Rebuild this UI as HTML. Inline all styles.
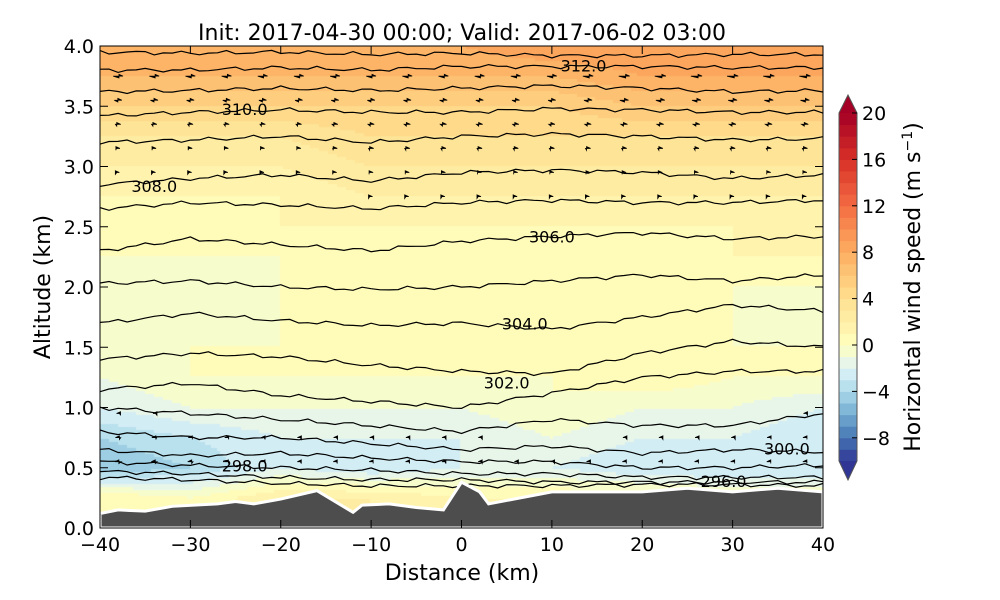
<!DOCTYPE html>
<html><head><meta charset="utf-8"><style>
body{margin:0;background:#fff;width:1000px;height:600px;overflow:hidden;position:relative;font-family:"Liberation Sans","DejaVu Sans",sans-serif}
canvas{position:absolute;left:100px;top:46px}
svg{position:absolute;left:0;top:0}
text{font-family:"DejaVu Sans","Liberation Sans",sans-serif}
</style></head><body>
<canvas id="field" width="723" height="482"></canvas>
<svg id="chart" width="1000" height="600"></svg>
<script>
// ---- data ----
const gridX=[-40,-30,-20,-10,0,10,20,30,40];
const gridZ=[0,0.25,0.5,0.75,1.0,1.25,1.5,1.75,2.0,2.25,2.5,2.75,3.0,3.25,3.5,3.75,4.0];
const windRows=[
[1,0,2,2,1,1,1,0,0],
[1,0,2,2,1,1,1,0,0],
[-5,-4,-2,-3,-2,-2,-3,-3,-3],
[-4,-3,-2,-2,-2,-1,-2,-2,-3],
[-2,-1,-1,-1,-1,0,-1,-1,-2],
[-1,0,0,0,0,0,1,0,0],
[0,0,0,0,0,1,1,0,0],
[-1,-1,0,0,0,0,0,0,-1],
[-1,-1,0,0,0,0,0,0,0],
[0,0,0,0,0,1,0,1,1],
[0,0,1,1,1,1,1,1,1],
[1,1,1,2,2,2,2,2,2],
[2,2,2,3,3,3,3,3,3],
[3,3,3,4,4,4,4,4,4],
[5,5,5,5,5,5,6,6,6],
[7,7,7,7,7,7,8,8,8],
[8,8,8,8,8,9,9,9,9]];
const terrainX=[-40,-38,-35,-32,-27,-25,-23,-20,-16,-12,-11,-8,-5,-2,0,2,3,10,20,25,30,35,40];
const terrainH=[0.12,0.15,0.14,0.18,0.2,0.22,0.2,0.24,0.31,0.13,0.19,0.2,0.17,0.15,0.38,0.3,0.2,0.3,0.3,0.33,0.3,0.33,0.3];
const thetaLevels=[296,297,298,299,300,301,302,303,304,305,306,307,308,309,310,311,312,313];
const thetaHeights=[
[0.42,0.4,0.37,0.35,0.35,0.35,0.36,0.36,0.35],
[0.47,0.45,0.42,0.4,0.4,0.38,0.38,0.38,0.38],
[0.55,0.52,0.5,0.48,0.45,0.45,0.42,0.42,0.42],
[0.65,0.6,0.62,0.58,0.55,0.55,0.5,0.5,0.52],
[0.8,0.75,0.75,0.7,0.65,0.68,0.62,0.65,0.63],
[1.0,0.95,0.9,0.85,0.8,0.9,0.85,0.85,0.95],
[1.15,1.2,1.1,1.05,1.0,1.12,1.25,1.3,1.3],
[1.4,1.45,1.42,1.35,1.3,1.28,1.45,1.55,1.5],
[1.7,1.78,1.72,1.68,1.7,1.65,1.75,1.85,1.8],
[2.03,2.05,2.0,1.98,2.0,2.05,2.1,2.05,2.1],
[2.3,2.4,2.35,2.3,2.38,2.42,2.45,2.4,2.42],
[2.65,2.7,2.68,2.65,2.7,2.72,2.7,2.7,2.72],
[2.85,2.9,2.93,2.88,2.95,2.97,2.95,2.9,2.93],
[3.2,3.22,3.25,3.2,3.25,3.27,3.25,3.22,3.23],
[3.42,3.45,3.47,3.45,3.45,3.48,3.47,3.45,3.45],
[3.62,3.63,3.65,3.63,3.65,3.67,3.65,3.62,3.63],
[3.8,3.8,3.82,3.8,3.83,3.83,3.83,3.82,3.82],
[3.95,3.94,3.95,3.93,3.94,3.92,3.92,3.93,3.93]];
const contourLabels=[[312,13.5,3.83],[310,-24,3.47],[308,-34,2.83],[306,10,2.41],[304,7,1.69],[302,5,1.2],[300,36,0.65],[298,-24,0.51],[296,29,0.38]];
const xTicks=[-40,-30,-20,-10,0,10,20,30,40];
const yTicks=[0,0.5,1,1.5,2,2.5,3,3.5,4];
const cbTicks=[-8,-4,0,4,8,12,16,20];

// ---- scales ----
const PL=100,PR=823,PT=46,PB=528;
const sx=v=>PL+(v+40)/80*(PR-PL);
const sy=v=>PB-v/4*(PB-PT);
const CBL=839,CBR=857,CBT=113,CBB=461;
const scb=v=>CBB-(v+10)/30*(CBB-CBT);
const stops=["#313695","#4575b4","#74add1","#abd9e9","#e0f3f8","#ffffbf","#fee090","#fdae61","#f46d43","#d73027","#a50026"].map(h=>[1,3,5].map(i=>parseInt(h.substr(i,2),16)));
function cmap(t){t=Math.max(0,Math.min(1,t));const f=t*10,i=Math.min(9,Math.floor(f)),r=f-i;const a=stops[i],b=stops[i+1];return `rgb(${a.map((c,k)=>Math.round(c+(b[k]-c)*r)).join(',')})`;}
const norm=v=>v<0?(v+10)/20:0.5+v/40;
const levelColor=v=>{const l=Math.floor(v);return cmap(norm(l+0.5));};
function interp1(xs,ys,x){if(x<=xs[0])return ys[0];for(let i=1;i<xs.length;i++)if(x<=xs[i]){const r=(x-xs[i-1])/(xs[i]-xs[i-1]);return ys[i-1]+(ys[i]-ys[i-1])*r;}return ys[ys.length-1];}
function wind(x,z){const col=windRows.map(r=>interp1(gridX,r,x));return interp1(gridZ,col,z);}

// ---- field ----
const ctx=document.getElementById('field').getContext('2d');
const S=3;
for(let px=0;px<723;px+=S)for(let py=0;py<482;py+=S){const x=-40+(px+S/2)/723*80,z=4-(py+S/2)/482*4;ctx.fillStyle=levelColor(wind(x,z));ctx.fillRect(px,py,S,S);}

// ---- svg ----
const svg=document.getElementById('chart');const NS="http://www.w3.org/2000/svg";
function el(tag,attrs,parent){const e=document.createElementNS(NS,tag);for(const k in attrs)e.setAttribute(k,attrs[k]);(parent||svg).appendChild(e);return e;}
const defs=el('defs',{});const cp=el('clipPath',{id:'clip'},defs);el('rect',{x:PL,y:PT,width:PR-PL,height:PB-PT},cp);
const plot=el('g',{'clip-path':'url(#clip)'});



// wind arrows
for(let xx=-38;xx<=40;xx+=4)for(let zz=0.35;zz<=3.95;zz+=0.2){
  const w=wind(xx,zz);const L=Math.abs(w)*1.4;if(L<2.5)continue;
  const x0=sx(xx),y0=sy(zz),d=Math.sign(w);
  const a=el('path',{d:`M${x0-d*L/2},${y0} L${x0+d*L/2},${y0} l${-d*4},-1.8 l0,3.6 z`,stroke:'#000','stroke-width':0.8,fill:'#000'},plot);
  
  
}
// contours
const fineX=[];for(let x=-40;x<=40;x+=1)fineX.push(x);
thetaLevels.forEach((lv,i)=>{
  const pts=fineX.map(x=>{const base=interp1(gridX,thetaHeights[i],x);const wig=0.012*Math.sin(x*1.3+i)+0.008*Math.sin(x*2.7+i*2);return sx(x).toFixed(1)+','+sy(base+wig).toFixed(1);}).join(' ');
  const p=el('polyline',{points:pts,fill:'none',stroke:'#000','stroke-width':1.2},plot);
  
  
});
contourLabels.forEach(c=>{
  const t=el('text',{x:sx(c[1]),y:sy(c[2])+5,'font-size':16,'text-anchor':'middle',fill:'#000'},plot);
  t.textContent=c[0].toFixed(1);
  
  
});
// terrain
const tp=terrainX.map((x,i)=>sx(x)+','+sy(terrainH[i])).join(' ');
const terr=el('polygon',{points:`${sx(-40)},${PB} ${tp} ${sx(40)},${PB}`,fill:'#4d4d4d',stroke:'#fff','stroke-width':3},plot);



// axes frame
const fr=el('rect',{x:PL,y:PT,width:PR-PL,height:PB-PT,fill:'none',stroke:'#000','stroke-width':1});

xTicks.forEach(v=>{const x=sx(v);
  el('line',{x1:x,x2:x,y1:PB,y2:PB-8,stroke:'#000'});el('line',{x1:x,x2:x,y1:PT,y2:PT+8,stroke:'#000'});
  const t=el('text',{x:x,y:PB+23,'font-size':19,'text-anchor':'middle'});t.textContent=v<0?'\u2212'+(-v):v;
  });
yTicks.forEach(v=>{const y=sy(v);
  el('line',{x1:PL,x2:PL+8,y1:y,y2:y,stroke:'#000'});el('line',{x1:PR,x2:PR-8,y1:y,y2:y,stroke:'#000'});
  const t=el('text',{x:PL-6,y:y+7,'font-size':19,'text-anchor':'end'});t.textContent=v.toFixed(1);
  });
let t=el('text',{x:462,y:580,'font-size':22,'text-anchor':'middle'});t.textContent='Distance (km)';

t=el('text',{x:0,y:0,'font-size':22,'text-anchor':'middle',transform:`translate(50,${(PT+PB)/2}) rotate(-90)`});t.textContent='Altitude (km)';

t=el('text',{x:462,y:40,'font-size':22,'text-anchor':'middle'});t.textContent='Init: 2017-04-30 00:00; Valid: 2017-06-02 03:00';


// colorbar
const cb=el('g',{});

for(let v=-10;v<20;v++){el('rect',{x:CBL,y:scb(v+1),width:CBR-CBL,height:scb(v)-scb(v+1)+0.5,fill:levelColor(v)},cb);}
el('polygon',{points:`${CBL},${CBT} ${(CBL+CBR)/2},95 ${CBR},${CBT}`,fill:levelColor(20)},cb);
el('polygon',{points:`${CBL},${CBB} ${(CBL+CBR)/2},480 ${CBR},${CBB}`,fill:levelColor(-11)},cb);
el('polygon',{points:`${CBL},${CBT} ${(CBL+CBR)/2},95 ${CBR},${CBT} ${CBR},${CBB} ${(CBL+CBR)/2},480 ${CBL},${CBB}`,fill:'none',stroke:'#555','stroke-width':1},cb);
cbTicks.forEach(v=>{const y=scb(v);el('line',{x1:CBR-5,x2:CBR,y1:y,y2:y,stroke:'#000'},cb);
  const tt=el('text',{x:CBR+5,y:y+7,'font-size':19},cb);tt.textContent=v<0?'\u2212'+(-v):v;
  });
t=el('text',{x:0,y:0,'font-size':22,'text-anchor':'middle',transform:`translate(920,287) rotate(-90)`});
t.innerHTML='Horizontal wind speed (m s<tspan dy="-8" font-size="14">\u22121</tspan><tspan dy="8">)</tspan>';

</script>
</body></html>
